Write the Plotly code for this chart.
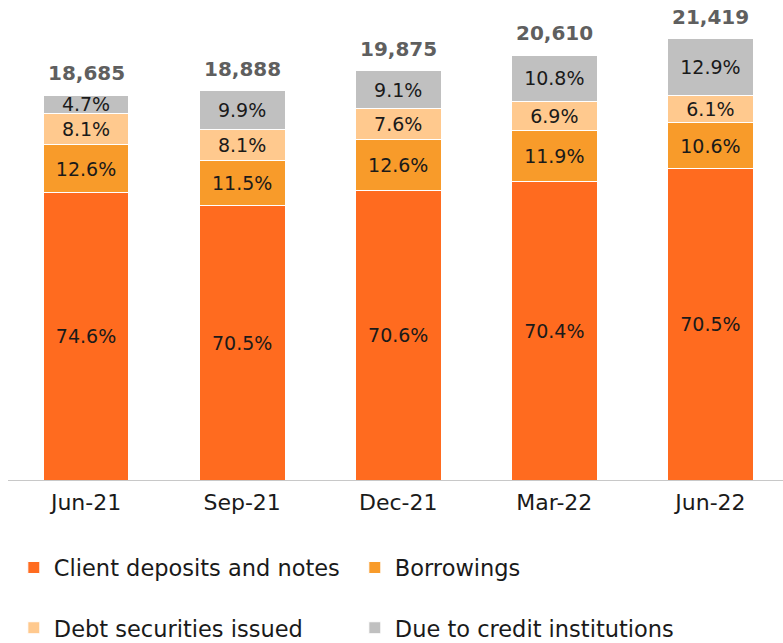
import plotly.graph_objects as go

# Funding mix by quarter (shares in %, totals in millions)
quarters = ["Jun-21", "Sep-21", "Dec-21", "Mar-22", "Jun-22"]
totals = [18685, 18888, 19875, 20610, 21419]
client_deposits_pct = [74.6, 70.5, 70.6, 70.4, 70.5]
borrowings_pct = [12.6, 11.5, 12.6, 11.9, 10.6]
debt_securities_pct = [8.1, 8.1, 7.6, 6.9, 6.1]
due_to_credit_pct = [4.7, 9.9, 9.1, 10.8, 12.9]

series = [
    ("Client deposits and notes", client_deposits_pct, "#FF6B1F", "legend"),
    ("Borrowings", borrowings_pct, "#F89B2A", "legend"),
    ("Debt securities issued", debt_securities_pct, "#FFC98E", "legend2"),
    ("Due to credit institutions", due_to_credit_pct, "#C0C0C0", "legend2"),
]

FONT = "DejaVu Sans"
TEXT = "#1A1A1A"

fig = go.Figure()
for name, pcts, color, leg in series:
    values = [t * p / 100 for t, p in zip(totals, pcts)]
    fig.add_trace(go.Bar(
        x=quarters,
        y=values,
        name=name,
        legend=leg,
        marker=dict(color=color, line=dict(color="white", width=1)),
        text=[f"{p:.1f}%" for p in pcts],
        textposition="inside",
        insidetextanchor="middle",
        textangle=0,
        constraintext="none",
        textfont=dict(family=FONT, size=19, color=TEXT),
        width=0.55,
        hoverinfo="skip",
    ))

for q, t in zip(quarters, totals):
    fig.add_annotation(
        x=q, y=t, text=f"<b>{t:,}</b>", showarrow=False,
        yanchor="bottom", yshift=8,
        font=dict(family=FONT, size=20, color="#5F5F5F"),
    )

legend_common = dict(
    orientation="h", xanchor="left", yanchor="middle",
    font=dict(family=FONT, size=22.5, color=TEXT),
    entrywidth=296, entrywidthmode="pixels",
    bgcolor="rgba(0,0,0,0)", traceorder="normal",
)

fig.update_layout(
    width=783, height=643,
    margin=dict(l=8, r=0, t=20, b=163, autoexpand=False),
    paper_bgcolor="white", plot_bgcolor="white",
    barmode="stack",
    showlegend=True,
    legend=dict(x=0.0075, y=-0.191, **legend_common),
    legend2=dict(x=0.0075, y=-0.322, **legend_common),
    xaxis=dict(
        range=[-0.5, 4.465], showline=True, linecolor="#C8C8C8", linewidth=1,
        showgrid=False, ticks="", zeroline=False, ticklabelstandoff=3,
        tickfont=dict(family=FONT, size=22, color=TEXT),
        fixedrange=True,
    ),
    yaxis=dict(range=[0, 22330], visible=False, showgrid=False, fixedrange=True),
)

fig.write_html("out.html")
